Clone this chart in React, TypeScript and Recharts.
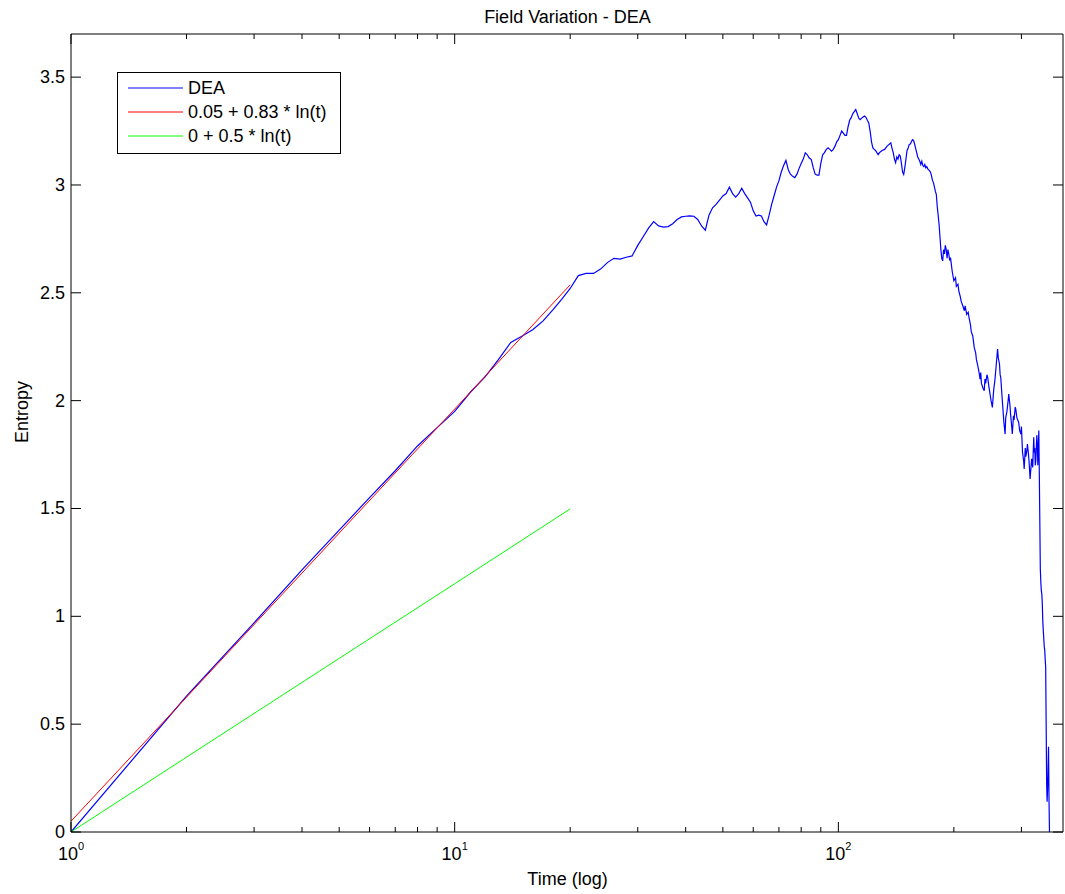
import { LineChart, Line, XAxis, YAxis, Legend } from 'recharts';

const FONT = '"Liberation Sans", Arial, Helvetica, sans-serif';

// time (t) vs entropy
const deaReadings: [number, number][] = [
  [1, 0], [2, 0.63], [3, 0.97], [4, 1.215], [5, 1.4], [6, 1.55], [7, 1.675], [8, 1.79], [9, 1.875], [10, 1.95],
  [11, 2.04], [12, 2.11], [13, 2.19], [14, 2.27], [15, 2.3], [16, 2.33], [17, 2.37], [18, 2.42], [19, 2.47], [20, 2.52],
  [21, 2.58], [22, 2.59], [23, 2.59], [24, 2.61], [25, 2.64], [26, 2.66], [27, 2.656], [28, 2.665], [29, 2.671], [30, 2.72],
  [31, 2.76], [32, 2.8], [33, 2.83], [34, 2.81], [35, 2.805], [36, 2.807], [37, 2.82], [38, 2.84], [39, 2.852], [40, 2.855],
  [41, 2.857], [42, 2.855], [43, 2.84], [44, 2.81], [45, 2.79], [46, 2.86], [47, 2.894], [48, 2.91], [49, 2.93], [50, 2.949],
  [51, 2.96], [52, 2.99], [53, 2.96], [54, 2.944], [55, 2.96], [56, 2.985], [57, 2.96], [58, 2.94], [59, 2.92], [60, 2.88],
  [61, 2.856], [62, 2.86], [63, 2.856], [64, 2.83], [65, 2.815], [66, 2.86], [67, 2.91], [68, 2.95], [69, 2.99], [70, 3.02],
  [71, 3.06], [72, 3.09], [73, 3.114], [74, 3.072], [75, 3.05], [76, 3.04], [77, 3.034], [78, 3.05], [79, 3.077], [80, 3.1],
  [81, 3.12], [82, 3.149], [83, 3.14], [84, 3.125], [85, 3.118], [86, 3.08], [87, 3.05], [88, 3.046], [89, 3.046], [90, 3.1],
  [91, 3.14], [92, 3.15], [93, 3.165], [94, 3.172], [95, 3.165], [96, 3.157], [97, 3.165], [98, 3.18], [99, 3.2], [100, 3.21],
  [101, 3.23], [102, 3.25], [103, 3.24], [104, 3.23], [105, 3.23], [106, 3.27], [107, 3.3], [108, 3.312], [109, 3.33], [110, 3.34],
  [111, 3.35], [112, 3.33], [113, 3.31], [114, 3.303], [115, 3.31], [116, 3.315], [117, 3.32], [118, 3.314], [119, 3.3], [120, 3.288],
  [121, 3.25], [122, 3.2], [123, 3.172], [124, 3.165], [125, 3.16], [126, 3.15], [127, 3.141], [128, 3.15], [129, 3.155], [130, 3.16],
  [132, 3.165], [134, 3.18], [137, 3.195], [138, 3.17], [139, 3.15], [140, 3.12], [141, 3.103], [142, 3.13], [143, 3.12], [144, 3.14],
  [145, 3.134], [146, 3.1], [147, 3.06], [148, 3.049], [149, 3.08], [150, 3.12], [151, 3.16], [152, 3.17], [153, 3.188], [154, 3.19],
  [155, 3.2], [156, 3.21], [157, 3.207], [158, 3.19], [159, 3.17], [160, 3.15], [161, 3.13], [162, 3.12], [163, 3.11], [164, 3.095],
  [165, 3.11], [166, 3.09], [167, 3.085], [168, 3.095], [169, 3.08], [170, 3.085], [171, 3.075], [172, 3.07], [173, 3.065], [174, 3.057],
  [175, 3.04], [176, 3.02], [177, 3.01], [178, 2.99], [179, 2.97], [180, 2.957], [181, 2.9], [182, 2.86], [183, 2.818], [184, 2.76],
  [185, 2.7], [186, 2.66], [187, 2.648], [188, 2.7], [189, 2.68], [190, 2.72], [191, 2.702], [192, 2.66], [193, 2.7], [194, 2.68],
  [195, 2.65], [196, 2.663], [198, 2.6], [200, 2.556], [202, 2.57], [203, 2.53], [205, 2.54], [206, 2.509], [208, 2.48], [209, 2.46],
  [211, 2.44], [213, 2.417], [214, 2.44], [216, 2.4], [218, 2.41], [219, 2.386], [221, 2.35], [222, 2.32], [224, 2.3], [226, 2.247],
  [228, 2.22], [229, 2.19], [231, 2.16], [233, 2.124], [234, 2.1], [235, 2.13], [236, 2.08], [238, 2.06], [240, 2.046], [241, 2.1],
  [242, 2.08], [244, 2.12], [245, 2.108], [247, 2.06], [248, 2.04], [250, 2.0], [252, 1.969], [254, 2.05], [256, 2.1], [258, 2.17],
  [260, 2.239], [261, 2.2], [263, 2.17], [264, 2.12], [265, 2.108], [267, 2.02], [268, 1.98], [270, 1.9], [272, 1.845], [273, 1.92],
  [275, 1.95], [277, 2.0], [278, 2.031], [280, 1.98], [281, 1.94], [283, 1.88], [284, 1.845], [286, 1.93], [287, 1.91], [289, 1.97],
  [290, 1.961], [292, 1.92], [295, 1.9], [297, 1.86], [299, 1.845], [300, 1.88], [302, 1.76], [304, 1.72], [305, 1.683], [307, 1.78],
  [308, 1.74], [310, 1.77], [311, 1.799], [313, 1.75], [314, 1.72], [315, 1.68], [316, 1.637], [318, 1.7], [319, 1.73], [321, 1.69],
  [323, 1.83], [324, 1.76], [325, 1.78], [326, 1.7], [327, 1.722], [329, 1.84], [330, 1.8], [331, 1.7], [332, 1.78], [333, 1.861],
  [334, 1.66], [336, 1.22], [337, 1.16], [338, 1.12], [339, 1.104], [340, 1.06], [341, 0.98], [342, 0.935], [343, 0.9], [344, 0.86],
  [345, 0.843], [346, 0.8], [347, 0.765], [348, 0.5], [349, 0.225], [350, 0.14], [351, 0.2], [352, 0.3], [353, 0.395], [354, 0.148],
  [355, 0],
];

const fitTime = [1, 2, 5, 10, 20];
const redFit = [0.05, 0.625, 1.386, 1.961, 2.537];
const greenFit = [0, 0.347, 0.805, 1.151, 1.498];

const seriesNames = ['DEA', '0.05 + 0.83 * ln(t)', '0 + 0.5 * ln(t)'];

const xTicks = [1, 2, 3, 4, 5, 6, 7, 8, 9, 10, 20, 30, 40, 50, 60, 70, 80, 90, 100, 200, 300];
const xMajorExp: Record<number, string> = { 1: '0', 10: '1', 100: '2' };
const yTicks = [0, 0.5, 1, 1.5, 2, 2.5, 3, 3.5];

const deaData = deaReadings.map(([t, v]) => ({ t, v }));
const redData = fitTime.map((t, i) => ({ t, v: redFit[i] }));
const greenData = fitTime.map((t, i) => ({ t, v: greenFit[i] }));

const BottomTick = (props: any) => {
  const { x, y, payload } = props;
  const exp = xMajorExp[payload.value];
  return (
    <g>
      <line x1={x} x2={x} y1={y} y2={y - (exp ? 10 : 5)} stroke="#000" />
      {exp && (
        <text x={x} y={y + 28} textAnchor="middle" fontSize={18} fontFamily={FONT} fill="#000">
          10<tspan dy={-10} fontSize={11}>{exp}</tspan>
        </text>
      )}
    </g>
  );
};

const TopTick = (props: any) => {
  const { x, y, payload } = props;
  const major = xMajorExp[payload.value] !== undefined;
  return <line x1={x} x2={x} y1={y} y2={y + (major ? 10 : 5)} stroke="#000" />;
};

const LeftTick = (props: any) => {
  const { x, y, payload } = props;
  return (
    <g>
      <line x1={x} x2={x + 10} y1={y} y2={y} stroke="#000" />
      <text x={x - 6} y={y + 6} textAnchor="end" fontSize={18} fontFamily={FONT} fill="#000">
        {payload.value}
      </text>
    </g>
  );
};

const RightTick = (props: any) => {
  const { x, y } = props;
  return <line x1={x} x2={x - 10} y1={y} y2={y} stroke="#000" />;
};

const TitleLabel = () => (
  <text x={567.5} y={23} textAnchor="middle" fontSize={18} fontFamily={FONT} fill="#000">
    Field Variation - DEA
  </text>
);

const XLabel = () => (
  <text x={567.5} y={885} textAnchor="middle" fontSize={18} fontFamily={FONT} fill="#000">
    Time (log)
  </text>
);

const YLabel = () => (
  <text
    x={22}
    y={412}
    transform="rotate(-90 22 412)"
    textAnchor="middle"
    dominantBaseline="central"
    fontSize={18}
    fontFamily={FONT}
    fill="#000"
  >
    Entropy
  </text>
);

const LegendBox = ({ payload }: any) => {
  const items = [...(payload || [])].sort(
    (a: any, b: any) => seriesNames.indexOf(a.value) - seriesNames.indexOf(b.value)
  );
  return (
    <svg width={224} height={82} style={{ display: 'block' }}>
      <rect x={0.5} y={0.5} width={223} height={81} fill="#fff" stroke="#000" />
      {items.map((p: any, i: number) => (
        <g key={i}>
          <line x1={11} x2={66} y1={16 + i * 24} y2={16 + i * 24} stroke={p.color} />
          <text x={71} y={16 + i * 24 + 6} fontSize={18} fontFamily={FONT} fill="#000">
            {p.value}
          </text>
        </g>
      ))}
    </svg>
  );
};

export default function App() {
  return (
    <div style={{ position: 'absolute', left: 0, top: 0, background: '#fff' }}>
      <LineChart width={1065} height={894} margin={{ top: 33, right: 1, bottom: 0, left: 0 }}>
        <XAxis
          dataKey="t"
          type="number"
          scale="log"
          domain={[1, 385]}
          allowDataOverflow
          ticks={xTicks}
          interval={0}
          height={62}
          tickSize={0}
          tickMargin={0}
          tickLine={false}
          tick={<BottomTick />}
          axisLine={{ stroke: '#000' }}
          label={<XLabel />}
        />
        <XAxis
          xAxisId="top"
          dataKey="t"
          orientation="top"
          type="number"
          scale="log"
          domain={[1, 385]}
          allowDataOverflow
          ticks={xTicks}
          interval={0}
          height={1}
          tickSize={0}
          tickMargin={0}
          tickLine={false}
          tick={<TopTick />}
          axisLine={{ stroke: '#000' }}
          label={<TitleLabel />}
        />
        <YAxis
          type="number"
          domain={[0, 3.7]}
          allowDataOverflow
          ticks={yTicks}
          interval={0}
          width={71}
          tickSize={0}
          tickMargin={0}
          tickLine={false}
          tick={<LeftTick />}
          axisLine={{ stroke: '#000' }}
          label={<YLabel />}
        />
        <YAxis
          yAxisId="right"
          orientation="right"
          type="number"
          domain={[0, 3.7]}
          allowDataOverflow
          ticks={yTicks}
          interval={0}
          width={1}
          tickSize={0}
          tickMargin={0}
          tickLine={false}
          tick={<RightTick />}
          axisLine={{ stroke: '#000' }}
        />
        <Legend
          layout="horizontal"
          verticalAlign="middle"
          align="center"
          content={<LegendBox />}
          wrapperStyle={{ left: 117, top: 72, width: 224, height: 82 }}
        />
        <Line
          data={deaData}
          dataKey="v"
          name={seriesNames[0]}
          stroke="#0000ff"
          strokeWidth={1.2}
          dot={false}
          type="linear"
          isAnimationActive={false}
        />
        <Line
          data={redData}
          dataKey="v"
          name={seriesNames[1]}
          stroke="#ff0000"
          strokeWidth={1}
          dot={false}
          type="linear"
          isAnimationActive={false}
        />
        <Line
          data={greenData}
          dataKey="v"
          name={seriesNames[2]}
          stroke="#00ff00"
          strokeWidth={1}
          dot={false}
          type="linear"
          isAnimationActive={false}
        />
      </LineChart>
    </div>
  );
}
